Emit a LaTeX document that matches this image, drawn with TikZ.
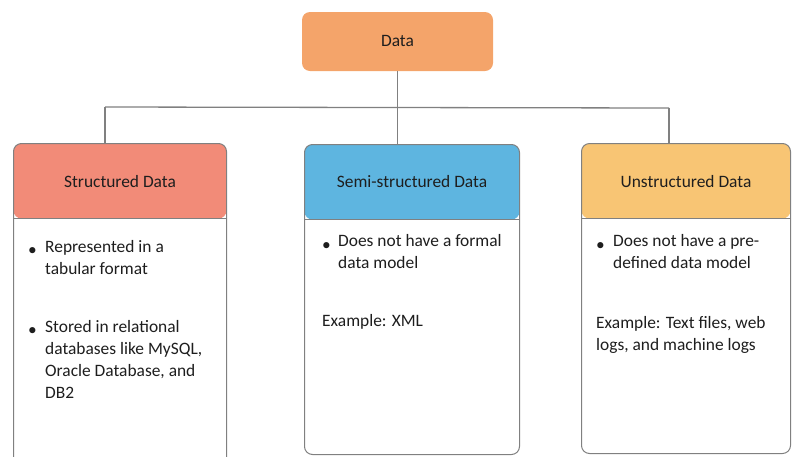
\documentclass[tikz,border=0pt]{standalone}
\usepackage{fontspec}
\setmainfont{Carlito}
\usetikzlibrary{calc}
\definecolor{linegray}{HTML}{808080}
\definecolor{rootfill}{HTML}{F4A46A}
\definecolor{structfill}{HTML}{F28B78}
\definecolor{semifill}{HTML}{5EB5E0}
\definecolor{unstructfill}{HTML}{F8C574}
\definecolor{ink}{HTML}{1E1E1E}
\begin{document}
\begin{tikzpicture}[x=1pt,y=-1pt,
  font=\fontsize{17.4}{22}\selectfont, text=ink,
  root/.style={fill=rootfill, rounded corners=8pt, inner sep=0,
    minimum width=191pt, minimum height=59pt},
  card/.style 2 args={draw=linegray, line width=1pt, fill=white,
    rounded corners=8pt, inner sep=0, anchor=north west,
    minimum width=#1pt, minimum height=#2pt},
  header/.style={path picture={
    \fill[#1] (path picture bounding box.north west)
      rectangle ([yshift=-75pt]path picture bounding box.north east);
    \draw[linegray, line width=0.9pt]
      ([yshift=-75pt]path picture bounding box.north west)
      -- ([yshift=-75pt]path picture bounding box.north east);}},
  title/.style={inner sep=0, anchor=center},
  para/.style={inner sep=0, anchor=north west, align=left,
    execute at begin node=\strut},
  dot/.style={inner sep=0, anchor=north west,
    execute at begin node=\strut},
  link/.style={draw=linegray, line width=1.3pt}]

\useasboundingbox (0,0) rectangle (792,456);

% root box
\node[root] (data) at (397.5,41.5) {};
\node[title] (datat) at (397.5,41) {Data};

% the three category cards
\node[card={213}{322}, header=structfill] (st) at (13,143) {};
\node[card={215}{310}, header=semifill] (se) at (304,144) {};
\node[card={209}{310}, header=unstructfill] (un) at (581,143) {};

\node[title] (stt) at ($(st.north)+(0,39)$) {Structured Data};
\node[title] (set) at ($(se.north)+(0,38)$) {Semi-structured Data};
\node[title] (unt) at ($(un.north)+(0,39)$) {Unstructured Data};

% tree connectors
\coordinate (hub) at (data.south |- 0,108);
\coordinate (lt) at (105,107);
\coordinate (rt) at (669,108);
\draw[link] (data.south) -- (hub);
\draw[link] (lt) -- (rt);
\draw[link] (hub) -- (hub |- se.north);
\draw[link] (lt) -- (lt |- st.north);
\draw[link] (rt) -- (rt |- un.north);

% card contents
\node[dot]  (stb1) at (28,240) {•};
\node[para] (st1) at (45,240) {Represented in a\\tabular format};
\node[dot]  (stb2) at (28,320) {•};
\node[para] (st2) at (45,320) {Stored in relational\\databases like MySQL,\\Oracle Database, and\\DB2};

\node[dot]  (seb1) at (322,234.5) {•};
\node[para] (se1) at (338,234.5) {Does not have a formal\\data model};
\node[para] (se2) at (322,311.1) {Example: XML};

\node[dot]  (unb1) at (596,234.5) {•};
\node[para] (un1) at (613,234.5) {Does not have a pre-\\defined data model};
\node[para] (un2) at (596,316.5) {Example: Text files, web\\logs, and machine logs};
\end{tikzpicture}
\end{document}
